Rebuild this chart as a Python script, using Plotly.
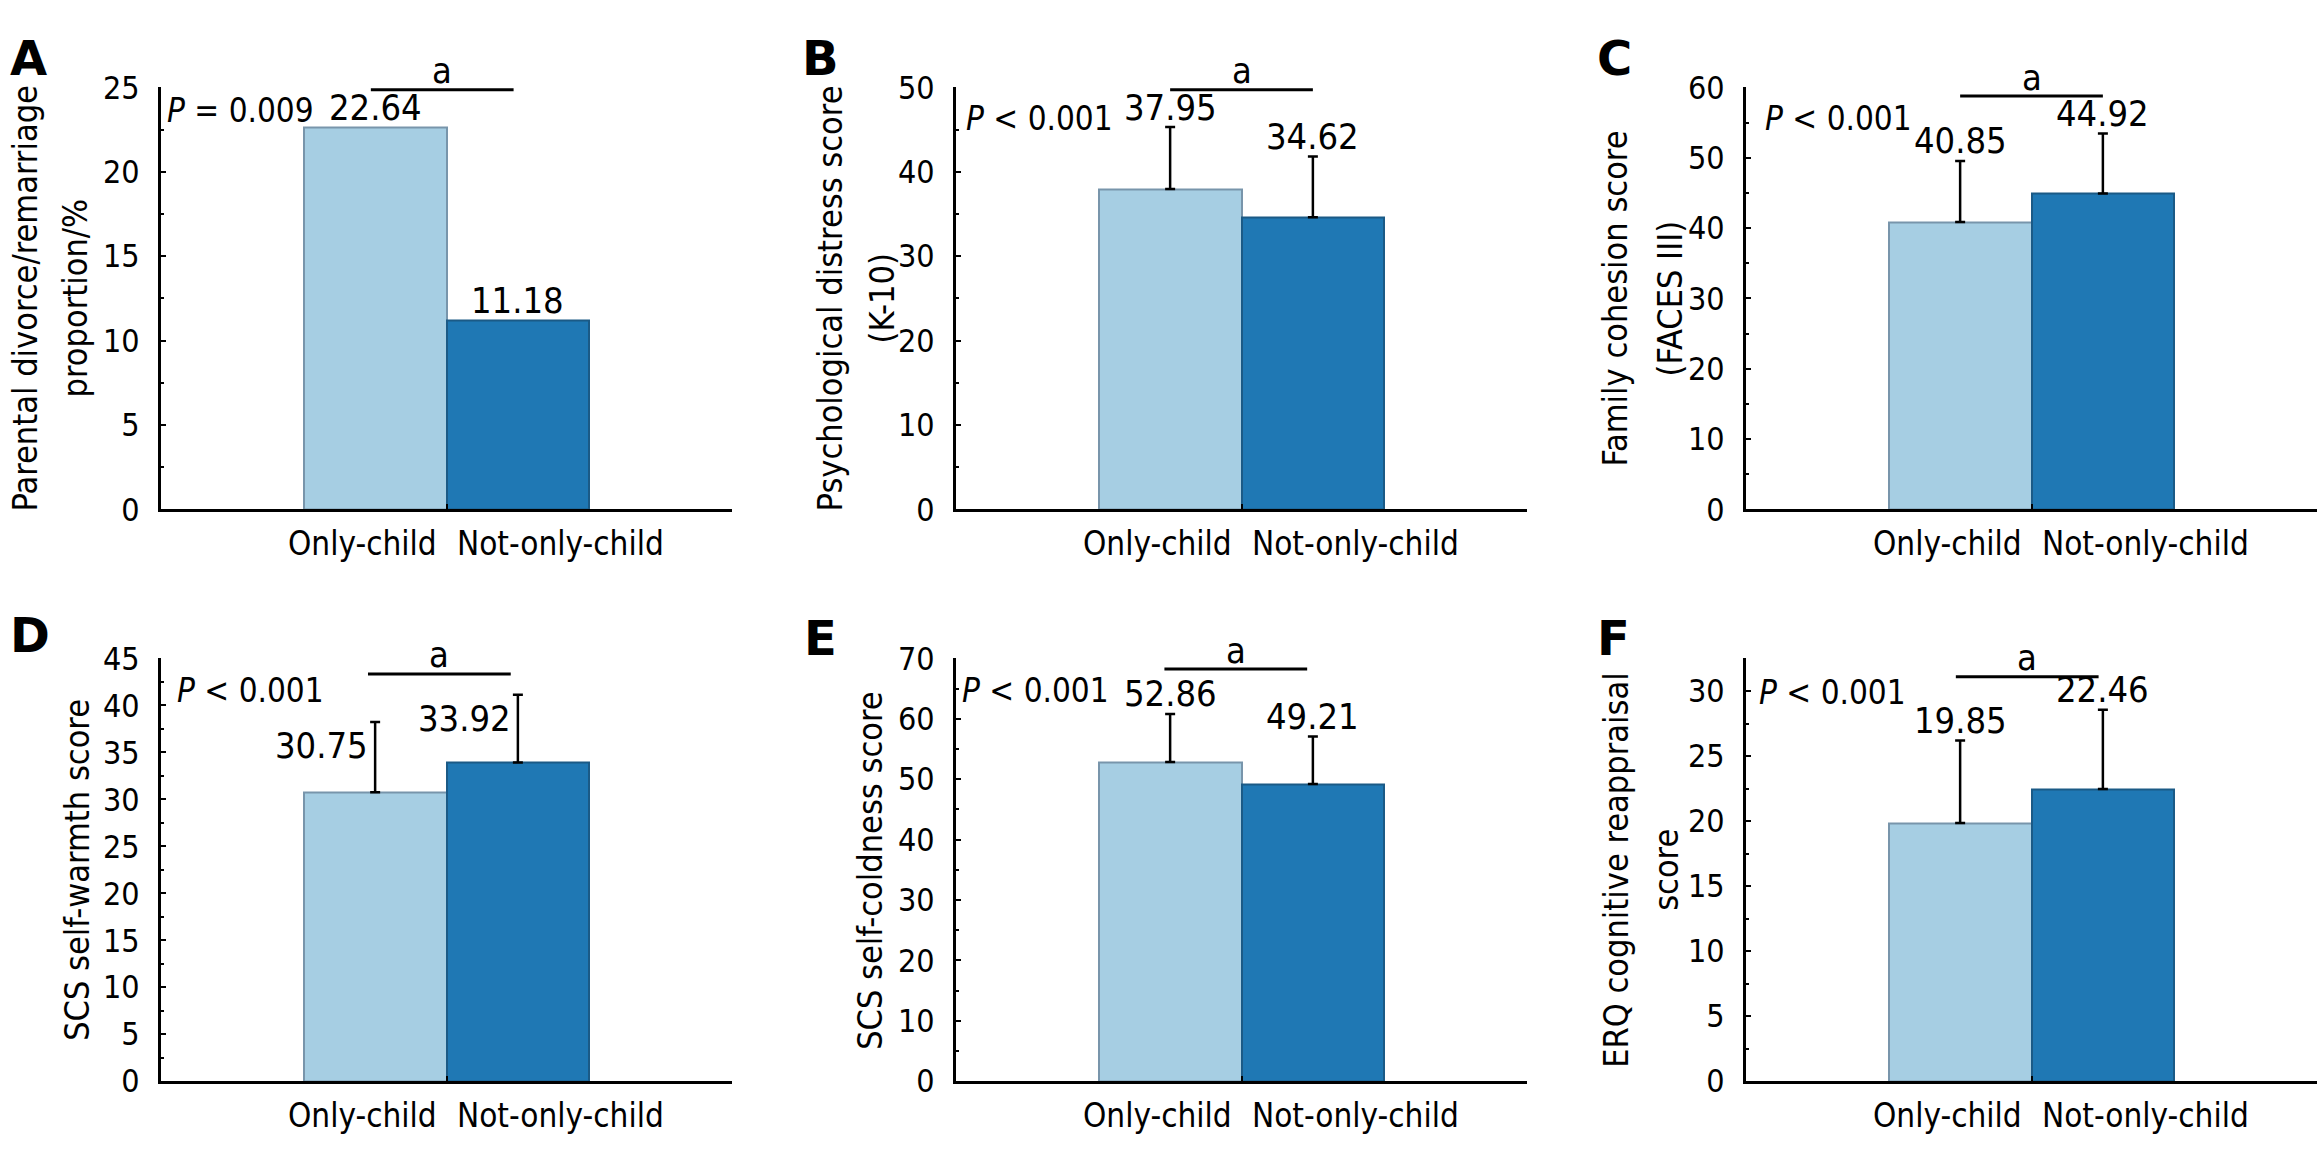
import plotly.graph_objects as go
from plotly.subplots import make_subplots

# ---- data ----
categories = ["Only-child", "Not-only-child"]

divorce_pct = [22.64, 11.18]
k10_mean = [37.95, 34.62]
k10_sd = [7.35, 7.18]
faces_mean = [40.85, 44.92]
faces_sd = [8.70, 8.53]
warmth_mean = [30.75, 33.92]
warmth_sd = [7.50, 7.22]
coldness_mean = [52.86, 49.21]
coldness_sd = [7.95, 7.89]
erq_mean = [19.85, 22.46]
erq_sd = [6.34, 6.10]

p_labels = ["<i>P</i> = 0.009", "<i>P</i> < 0.001", "<i>P</i> < 0.001",
            "<i>P</i> < 0.001", "<i>P</i> < 0.001", "<i>P</i> < 0.001"]
y_titles = [
    ["Parental divorce/remarriage", "proportion/%"],
    ["Psychological distress score", "(K-10)"],
    ["Family cohesion score", "(FACES III)"],
    ["SCS self-warmth score"],
    ["SCS self-coldness score"],
    ["ERQ cognitive reappraisal", "score"],
]
panel_letters = ["A", "B", "C", "D", "E", "F"]
y_max = [25, 50, 60, 45, 70, 32.5]
y_dtick = [5, 10, 10, 5, 10, 5]

means = [divorce_pct, k10_mean, faces_mean, warmth_mean, coldness_mean, erq_mean]
sds = [None, k10_sd, faces_sd, warmth_sd, coldness_sd, erq_sd]

# ---- layout (pixels) ----
W, H = 2321, 1167
col_left = [161, 956, 1746]
plot_w = 571
row_top = [70.7, 661]
row_bot = [507, 1098]

p_dx = [4, 8, 17, 14, 4, 11]           # P text offset from y axis
p_dy = [23, 31, 31, 32, 32, 34]        # P text offset below the plot top
bracket_dy = [2.5, 2.5, 9, 16, 11, 19]  # significance line below the plot top
bracket_dx = [-0.03, 0, 0, -0.05, -0.04, -0.03]
title_x = [[25, 75], [830, 882], [1615, 1670], [77], [870], [1616, 1666]]
letter_pos = [(28, 40), (821, 40), (1614, 40), (30, 637), (820, 640), (1613, 640)]

light, dark = "#A6CEE3", "#1F78B4"
edge_light, edge_dark = "#7895AB", "#1B5A86"

narrow = "DejaVu Sans Condensed, Liberation Sans Narrow, Roboto Condensed, sans-serif"
wide = "DejaVu Sans, Verdana, sans-serif"

fig = make_subplots(rows=2, cols=3)
annotations = []
shapes = []

for i in range(6):
    r, c = divmod(i, 3)
    n = i + 1
    xa = "xaxis" if n == 1 else f"xaxis{n}"
    ya = "yaxis" if n == 1 else f"yaxis{n}"
    xr = "x" if n == 1 else f"x{n}"
    yr = "y" if n == 1 else f"y{n}"

    err = None
    if sds[i] is not None:
        err = dict(type="data", array=sds[i], arrayminus=[0, 0], symmetric=False,
                   color="black", thickness=2.5, width=5)
    fig.add_trace(go.Bar(
        x=[0, 1], y=means[i], width=1,
        marker=dict(color=[light, dark], line=dict(color=[edge_light, edge_dark], width=2)),
        error_y=err, showlegend=False, hoverinfo="skip",
    ), row=r + 1, col=c + 1)

    x0 = col_left[c]
    fig.layout[xa].update(
        domain=[x0 / W, (x0 + plot_w) / W], range=[-1.5, 2.5],
        showline=True, linecolor="black", linewidth=3,
        ticks="inside", tickvals=[0.5, 2.5], ticklen=5, tickwidth=2, tickcolor="black",
        showticklabels=False, showgrid=False, zeroline=False, fixedrange=True,
    )
    fig.layout[ya].update(
        domain=[1 - row_bot[r] / H, 1 - row_top[r] / H], range=[0, y_max[i]],
        dtick=y_dtick[i], tick0=0,
        showline=True, linecolor="black", linewidth=3,
        ticks="inside", ticklen=5, tickwidth=2, tickcolor="black",
        minor=dict(ticks="inside", ticklen=3, tickwidth=2, tickcolor="black",
                   dtick=y_dtick[i] / 2, showgrid=False),
        tickfont=dict(family=narrow, size=32, color="black"),
        ticklabelstandoff=12,
        showgrid=False, zeroline=False, fixedrange=True,
    )

    # category labels, pushed apart around the bar boundary
    for k, (anchor, shift) in enumerate([("right", -8), ("left", 8)]):
        annotations.append(dict(
            text=categories[k], xref=xr, yref=f"{yr} domain", x=0.5, y=0,
            xanchor=anchor, yanchor="middle", xshift=shift, yshift=-34,
            showarrow=False, font=dict(family=narrow, size=33, color="black")))

    # value labels
    for k in range(2):
        top = means[i][k] + (sds[i][k] if sds[i] is not None else 0)
        if i == 3:
            annotations.append(dict(
                text=f"{means[i][k]:.2f}", xref=xr, yref=yr, x=k, y=top,
                xanchor="right", yanchor="middle", xshift=-5, yshift=-24,
                showarrow=False, font=dict(family=narrow, size=36, color="black")))
        else:
            annotations.append(dict(
                text=f"{means[i][k]:.2f}", xref=xr, yref=yr, x=k, y=top,
                xanchor="center", yanchor="middle", yshift=20,
                showarrow=False, font=dict(family=narrow, size=36, color="black")))

    # P value
    annotations.append(dict(
        text=p_labels[i], xref=f"{xr} domain", yref=f"{yr} domain", x=0, y=1,
        xanchor="left", yanchor="middle", xshift=p_dx[i], yshift=-p_dy[i],
        showarrow=False, font=dict(family=narrow, size=33, color="black")))

    # significance bracket
    plot_h = row_bot[r] - row_top[r]
    by = 1 - bracket_dy[i] / plot_h
    bx = bracket_dx[i]
    shapes.append(dict(type="line", xref=xr, yref=f"{yr} domain",
                       x0=0 + bx, x1=1 + bx, y0=by, y1=by,
                       line=dict(color="black", width=3)))
    annotations.append(dict(
        text="a", xref=xr, yref=f"{yr} domain", x=0.5 + bx, y=by,
        xanchor="center", yanchor="middle", yshift=19,
        showarrow=False, font=dict(family=narrow, size=36, color="black")))

    # y-axis title lines
    yc = (row_top[r] + row_bot[r]) / 2
    for line, tx in zip(y_titles[i], title_x[i]):
        annotations.append(dict(
            text=line, xref="paper", yref="paper", x=tx / W, y=1 - yc / H,
            xanchor="center", yanchor="middle", textangle=-90,
            showarrow=False, font=dict(family=narrow, size=34, color="black")))

    # panel letter
    lx, ly = letter_pos[i]
    annotations.append(dict(
        text=f"<b>{panel_letters[i]}</b>", xref="paper", yref="paper",
        x=lx / W, y=1 - ly / H, xanchor="center", yanchor="middle",
        showarrow=False, font=dict(family=wide, size=48, color="black")))

fig.update_layout(
    width=W, height=H, margin=dict(l=0, r=0, t=0, b=0),
    paper_bgcolor="white", plot_bgcolor="white",
    bargap=0, annotations=annotations, shapes=shapes,
)

fig.write_html("out.html", config={"displayModeBar": False},
               post_script="document.body.style.margin='0';document.body.style.overflow='hidden';")
